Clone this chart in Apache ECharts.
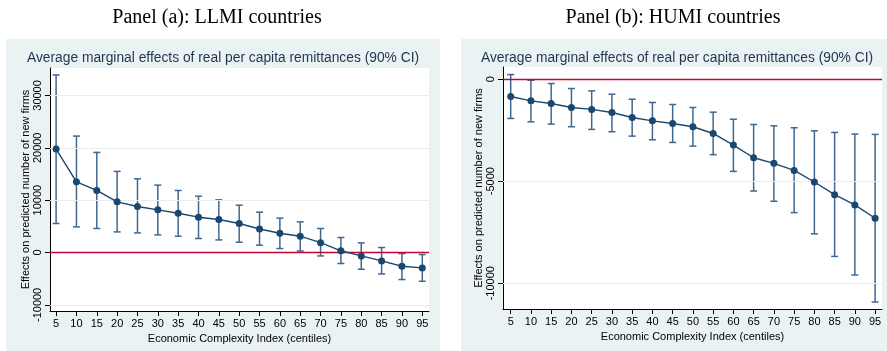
<!DOCTYPE html>
<html>
<head>
<meta charset="utf-8">
<script src="https://cdn.jsdelivr.net/npm/echarts@6/dist/echarts.min.js"></script>
<style>
  html, body { margin: 0; padding: 0; background: #ffffff; }
  #chart { width: 887px; height: 351px; }
</style>
</head>
<body>
<div id="chart"></div>
<script>
// Economic Complexity Index centiles (x positions)
const centiles = [5, 10, 15, 20, 25, 30, 35, 40, 45, 50, 55, 60, 65, 70, 75, 80, 85, 90, 95];

// Panel (a): LLMI countries — average marginal effects with 90% CI
const llmiEffect = [19750, 13500, 11850, 9680, 8790, 8150, 7510, 6750, 6310, 5545, 4500, 3690, 3120, 1880, 330, -650, -1600, -2620, -2940];
const llmiUpper  = [33900, 22240, 19120, 15490, 14080, 12870, 11850, 10760, 10060, 9040, 7710, 6560, 5850, 4590, 2870, 1840, 960, -190, -380];
const llmiLower  = [5545, 4900, 4590, 3940, 3750, 3370, 3120, 2680, 2410, 1970, 1400, 760, 300, -650, -2100, -3190, -4090, -5160, -5490];

// Panel (b): HUMI countries
const humiEffect = [-846, -1060, -1190, -1385, -1480, -1630, -1875, -2040, -2170, -2330, -2660, -3230, -3850, -4125, -4470, -5040, -5660, -6165, -6815];
const humiUpper  = [230, -50, -210, -455, -570, -734, -980, -1140, -1240, -1385, -1615, -1960, -2220, -2285, -2380, -2530, -2610, -2690, -2705];
const humiLower  = [-1923, -2090, -2200, -2330, -2460, -2575, -2790, -2970, -3100, -3280, -3700, -4520, -5480, -5985, -6540, -7580, -8690, -9600, -10925];

// Tick labels
const llmiYTicks = [-10000, 0, 10000, 20000, 30000];
const humiYTicks = [-10000, -5000, 0];

const panelTitles = ['Panel (a): LLMI countries', 'Panel (b): HUMI countries'];
const plotTitle = 'Average marginal effects of real per capita remittances (90% CI)';
const xTitle = 'Economic Complexity Index (centiles)';
const yTitle = 'Effects on predicted number of new firms';

const NAVY = '#1a476f';
const CI_COLOR = '#3f6890';
const ZERO_RED = '#c10534';
const GRID_LINE = '#e6eef0';
const PANEL_BG = '#eaf2f3';
const SANS = '"Liberation Sans", Arial, sans-serif';

const chart = echarts.init(document.getElementById('chart'), null, { renderer: 'canvas' });

function ciData(lower, upper) {
  return centiles.map((c, i) => [c, lower[i], upper[i]]);
}

// Vertical confidence interval with short caps at both ends
function renderErrorBar(params, api) {
  const x = api.value(0);
  const lo = api.coord([x, api.value(1)]);
  const hi = api.coord([x, api.value(2)]);
  const half = 3.5;
  const style = { stroke: CI_COLOR, lineWidth: 1.5, fill: null };
  return {
    type: 'group',
    children: [
      { type: 'line', shape: { x1: lo[0], y1: lo[1], x2: hi[0], y2: hi[1] }, style },
      { type: 'line', shape: { x1: lo[0] - half, y1: lo[1], x2: lo[0] + half, y2: lo[1] }, style },
      { type: 'line', shape: { x1: hi[0] - half, y1: hi[1], x2: hi[0] + half, y2: hi[1] }, style }
    ]
  };
}

function xAxisFor(gridIndex, min, max) {
  return {
    type: 'value', gridIndex, min, max,
    axisLine: { show: true, onZero: false, lineStyle: { color: '#000', width: 1 } },
    axisTick: { show: true, customValues: centiles, length: 5, lineStyle: { color: '#000' } },
    axisLabel: { customValues: centiles, color: '#000', fontFamily: SANS, fontSize: 11, margin: 7 },
    splitLine: { show: false },
    name: xTitle, nameLocation: 'middle', nameGap: 21,
    nameTextStyle: { color: '#000', fontFamily: SANS, fontSize: 11 }
  };
}

function yAxisFor(gridIndex, min, max, ticks) {
  return {
    type: 'value', gridIndex, min, max,
    axisLine: { show: true, onZero: false, lineStyle: { color: '#000', width: 1 } },
    axisTick: { show: true, customValues: ticks, length: 5, lineStyle: { color: '#000' } },
    axisLabel: {
      customValues: ticks, rotate: 90, color: '#000', fontFamily: SANS, fontSize: 11, margin: 7,
      formatter: v => String(v)
    },
    splitLine: { show: false },
    name: yTitle, nameLocation: 'middle', nameGap: 19,
    nameTextStyle: { color: '#000', fontFamily: SANS, fontSize: 11 }
  };
}

function gridLineSeries(xi, yi, ticks) {
  return {
    type: 'line', xAxisIndex: xi, yAxisIndex: yi, data: [], silent: true, z: 1,
    markLine: {
      silent: true, symbol: 'none', label: { show: false },
      lineStyle: { color: GRID_LINE, type: 'solid', width: 1 },
      data: ticks.filter(t => t !== 0).map(t => ({ yAxis: t }))
    }
  };
}

function zeroLineSeries(xi, yi) {
  return {
    type: 'line', xAxisIndex: xi, yAxisIndex: yi, data: [], silent: true, z: 3,
    markLine: {
      silent: true, symbol: 'none', label: { show: false },
      lineStyle: { color: ZERO_RED, type: 'solid', width: 1.3 },
      data: [{ yAxis: 0 }]
    }
  };
}

function ciSeries(xi, yi, lower, upper) {
  return {
    type: 'custom', xAxisIndex: xi, yAxisIndex: yi, z: 4,
    renderItem: renderErrorBar,
    encode: { x: 0, y: [1, 2] },
    data: ciData(lower, upper)
  };
}

function effectSeries(xi, yi, values) {
  return {
    type: 'line', xAxisIndex: xi, yAxisIndex: yi, z: 5,
    data: centiles.map((c, i) => [c, values[i]]),
    symbol: 'circle', symbolSize: 7,
    itemStyle: { color: NAVY },
    lineStyle: { color: NAVY, width: 1.4 },
    animation: false
  };
}

const titleFont = '20px "Liberation Serif", "Times New Roman", serif';
const subFont = '13.8px "Liberation Sans", Arial, sans-serif';

const option = {
  animation: false,
  backgroundColor: '#ffffff',
  graphic: [
    { type: 'rect', shape: { x: 6, y: 39, width: 434, height: 312 }, style: { fill: PANEL_BG }, z: -10 },
    { type: 'rect', shape: { x: 461, y: 39, width: 426, height: 312 }, style: { fill: PANEL_BG }, z: -10 },
    { type: 'text', x: 217, y: 18, style: { text: panelTitles[0], font: titleFont, fill: '#000', textAlign: 'center', textVerticalAlign: 'middle' } },
    { type: 'text', x: 673, y: 18, style: { text: panelTitles[1], font: titleFont, fill: '#000', textAlign: 'center', textVerticalAlign: 'middle' } },
    { type: 'text', x: 223, y: 58, style: { text: plotTitle, font: subFont, fill: '#1e3550', textAlign: 'center', textVerticalAlign: 'middle' } },
    { type: 'text', x: 677, y: 58, style: { text: plotTitle, font: subFont, fill: '#1e3550', textAlign: 'center', textVerticalAlign: 'middle' } }
  ],
  grid: [
    { left: 50, top: 68, width: 379, height: 243, show: true, backgroundColor: '#ffffff', borderWidth: 0, containLabel: false },
    { left: 503, top: 67, width: 379, height: 242, show: true, backgroundColor: '#ffffff', borderWidth: 0, containLabel: false }
  ],
  xAxis: [
    xAxisFor(0, 3.5, 96.65),
    xAxisFor(1, 3.1, 96.7)
  ],
  yAxis: [
    yAxisFor(0, -11166, 35240, llmiYTicks),
    yAxisFor(1, -11267, 600, humiYTicks)
  ],
  series: [
    gridLineSeries(0, 0, llmiYTicks),
    zeroLineSeries(0, 0),
    ciSeries(0, 0, llmiLower, llmiUpper),
    effectSeries(0, 0, llmiEffect),
    gridLineSeries(1, 1, humiYTicks),
    zeroLineSeries(1, 1),
    ciSeries(1, 1, humiLower, humiUpper),
    effectSeries(1, 1, humiEffect)
  ]
};

chart.setOption(option);
</script>
</body>
</html>
